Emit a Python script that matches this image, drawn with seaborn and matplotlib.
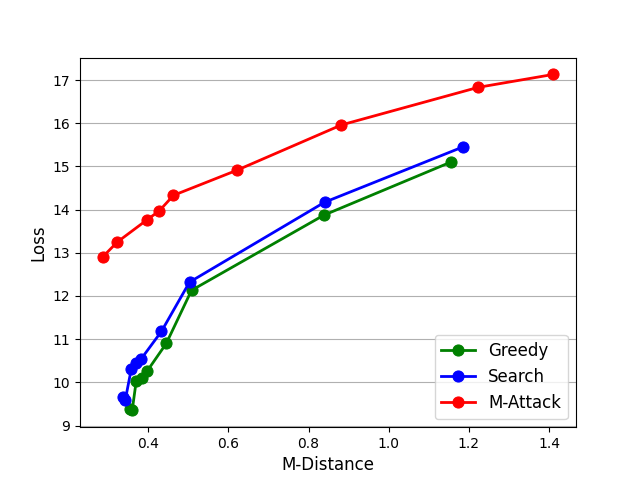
import matplotlib
matplotlib.use('Agg')
import matplotlib.pyplot as plt
import seaborn as sns
import pandas as pd

# Valores
greedy_x = [0.355, 0.36, 0.37, 0.385, 0.398, 0.445, 0.508, 0.838, 1.155]
greedy_y = [9.38, 9.35, 10.03, 10.10, 10.27, 10.90, 12.13, 13.87, 15.10]

search_x = [0.3375, 0.3425, 0.3575, 0.37, 0.383, 0.433, 0.503, 0.84, 1.185]
search_y = [9.65, 9.58, 10.30, 10.44, 10.55, 11.18, 12.32, 14.17, 15.45]

mattack_x = [0.286, 0.323, 0.398, 0.4275, 0.463, 0.621, 0.882, 1.223, 1.411]
mattack_y = [12.90, 13.25, 13.77, 13.97, 14.33, 14.91, 15.96, 16.83, 17.13]

series = [
    ('Greedy', greedy_x, greedy_y, 'green'),
    ('Search', search_x, search_y, 'blue'),
    ('M-Attack', mattack_x, mattack_y, 'red'),
]

fig, ax = plt.subplots(figsize=(6.4, 4.8), dpi=100)

for name, xs, ys, color in series:
    df = pd.DataFrame({'x': xs, 'y': ys})
    sns.lineplot(data=df, x='x', y='y', sort=False, estimator=None, ax=ax,
                 color=color, linewidth=2, marker='o', markersize=8,
                 markeredgecolor=color, label=name)

ax.set_xlabel('M-Distance', fontsize=12)
ax.set_ylabel('Loss', fontsize=12)
ax.grid(True, axis='y')
ax.grid(False, axis='x')
ax.legend(loc='lower right', fontsize=12)

plt.savefig('out.png')
plt.close()
